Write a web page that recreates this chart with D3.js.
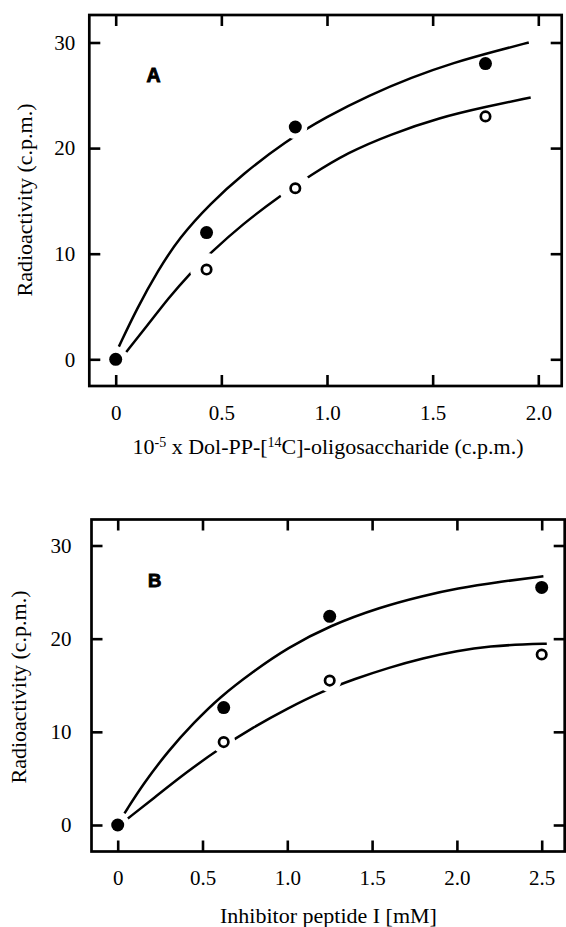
<!DOCTYPE html>
<html>
<head>
<meta charset="utf-8">
<script src="https://cdn.jsdelivr.net/npm/d3@7"></script>
<style>
  body { margin: 0; background: #fff; }
</style>
</head>
<body>
<svg id="chart" width="566" height="927"></svg>
<script>
// ---- data ----
var yTicks = [0, 10, 20, 30];
var yTickLabels = ["0", "10", "20", "30"];

// panel A
var xTicksA = [0, 0.5, 1.0, 1.5, 2.0];
var xTickLabelsA = ["0", "0.5", "1.0", "1.5", "2.0"];
var xFilledA = [0, 0.43, 0.85, 1.75];
var yFilledA = [0, 12.0, 22.0, 28.0];
var xOpenA = [0.43, 0.85, 1.75];
var yOpenA = [8.5, 16.2, 23.0];
var breakFilledA = [0, 0, 1, 0];
var breakOpenA = [1, 1, 0];
// fitted curves as drawn
var xCurveFilledA = [0.015, 0.1, 0.2, 0.3, 0.45, 0.6, 0.8, 1.0, 1.2, 1.4, 1.6, 1.8, 1.955];
var yCurveFilledA = [1.2, 4.8, 8.4, 11.5, 14.8, 17.5, 20.6, 23.0, 25.0, 26.7, 28.1, 29.2, 30.0];
var xCurveOpenA = [0.05, 0.15, 0.25, 0.35, 0.45, 0.6, 0.78, 0.92, 1.1, 1.3, 1.535, 1.75, 1.964];
var yCurveOpenA = [0.7, 3.2, 5.8, 8.1, 10.1, 12.8, 15.5, 17.4, 19.6, 21.3, 22.9, 23.9, 24.8];

// panel B
var xTicksB = [0, 0.5, 1.0, 1.5, 2.0, 2.5];
var xTickLabelsB = ["0", "0.5", "1.0", "1.5", "2.0", "2.5"];
var xFilledB = [0, 0.625, 1.25, 2.5];
var yFilledB = [0, 12.6, 22.4, 25.5];
var xOpenB = [0.625, 1.25, 2.5];
var yOpenB = [8.9, 15.5, 18.3];
var breakFilledB = [0, 0, 0, 0];
var breakOpenB = [1, 1, 0];
var xCurveFilledB = [0.04, 0.15, 0.3, 0.45, 0.6, 0.8, 1.0, 1.25, 1.55, 1.8, 2.0, 2.25, 2.51];
var yCurveFilledB = [1.25, 4.4, 8.0, 11.0, 13.7, 16.5, 19.0, 21.4, 23.4, 24.6, 25.4, 26.1, 26.7];
var xCurveOpenB = [0.06, 0.2, 0.4, 0.6, 0.8, 1.0, 1.2, 1.4, 1.6, 1.8, 2.0, 2.2, 2.4, 2.53];
var yCurveOpenB = [0.7, 2.7, 5.6, 8.2, 10.5, 12.5, 14.3, 15.7, 16.9, 17.9, 18.7, 19.2, 19.4, 19.45];

var serif = "'Liberation Serif', 'Times New Roman', serif";
var svg = d3.select("#chart");

function zip(xs, ys) {
    return xs.map((d, i) => [d, ys[i]]);
}

function styleAxis(g, size) {
    g.select(".domain").remove();
    g.selectAll("line").attr("stroke", "#000").attr("stroke-width", 2.6);
    g.selectAll("text")
        .attr("fill", "#000")
        .style("font-family", serif)
        .style("font-size", size + "px");
}

function drawPanel(p) {
    var g = svg.append("g");

    var x = d3.scaleLinear().domain(p.xDomain).range(p.xRange);
    var y = d3.scaleLinear().domain([0, 30]).range(p.yRange);

    // bottom axis with labels, ticks pointing in
    g.append("g")
        .attr("transform", "translate(0," + p.bottom + ")")
        .call(d3.axisBottom(x).tickValues(p.xTicks)
            .tickFormat((d, i) => p.xLabels[i])
            .tickSizeInner(-11).tickSizeOuter(0).tickPadding(19))
        .call(g => styleAxis(g, 21));

    g.append("g")
        .attr("transform", "translate(0," + p.top + ")")
        .call(d3.axisTop(x).tickValues(p.xTicks).tickFormat("")
            .tickSizeInner(-11).tickSizeOuter(0))
        .call(g => styleAxis(g, 21));

    g.append("g")
        .attr("transform", "translate(" + p.left + ",0)")
        .call(d3.axisLeft(y).tickValues(yTicks)
            .tickFormat((d, i) => yTickLabels[i])
            .tickSizeInner(-11).tickSizeOuter(0).tickPadding(p.yPad))
        .call(g => styleAxis(g, 21));

    g.append("g")
        .attr("transform", "translate(" + p.right + ",0)")
        .call(d3.axisRight(y).tickValues(yTicks).tickFormat("")
            .tickSizeInner(-11).tickSizeOuter(0))
        .call(g => styleAxis(g, 21));

    // frame
    g.append("rect")
        .attr("x", p.left)
        .attr("y", p.top)
        .attr("width", p.right - p.left)
        .attr("height", p.bottom - p.top)
        .attr("fill", "none")
        .attr("stroke", "#000")
        .attr("stroke-width", 2.7);

    // curves
    var line = d3.line()
        .x(d => x(d[0]))
        .y(d => y(d[1]))
        .curve(d3.curveBasis);

    g.append("path")
        .datum(zip(p.curveFilled[0], p.curveFilled[1]))
        .attr("d", line)
        .attr("fill", "none")
        .attr("stroke", "#000")
        .attr("stroke-width", 2.5);

    g.append("path")
        .datum(zip(p.curveOpen[0], p.curveOpen[1]))
        .attr("d", line)
        .attr("fill", "none")
        .attr("stroke", "#000")
        .attr("stroke-width", 2.5);

    var filled = zip(p.filled[0], p.filled[1]);
    var open = zip(p.open[0], p.open[1]);

    // white gaps where the curve breaks around a point
    g.selectAll(".gapf")
        .data(filled.filter((d, i) => p.filledBreak[i]))
        .enter()
        .append("circle")
        .attr("cx", d => x(d[0]))
        .attr("cy", d => y(d[1]))
        .attr("r", p.gapFilled)
        .attr("fill", "#fff");

    g.selectAll(".gapo")
        .data(open.filter((d, i) => p.openBreak[i]))
        .enter()
        .append("circle")
        .attr("cx", d => x(d[0]))
        .attr("cy", d => y(d[1]))
        .attr("r", p.gapOpen)
        .attr("fill", "#fff");

    g.selectAll(".open")
        .data(open)
        .enter()
        .append("circle")
        .attr("cx", d => x(d[0]))
        .attr("cy", d => y(d[1]))
        .attr("r", 4.7)
        .attr("fill", "#fff")
        .attr("stroke", "#000")
        .attr("stroke-width", 2.7);

    g.selectAll(".filled")
        .data(filled)
        .enter()
        .append("circle")
        .attr("cx", d => x(d[0]))
        .attr("cy", d => y(d[1]))
        .attr("r", 6.5)
        .attr("fill", "#000");

    // panel letter
    g.append("text")
        .attr("x", p.letterX)
        .attr("y", p.letterY)
        .text(p.letter)
        .style("font-family", "'Liberation Sans', Arial, sans-serif")
        .style("font-weight", "bold")
        .style("font-size", p.letterSize + "px")
        .attr("stroke", "#000")
        .attr("stroke-width", 0.9);

    // y title
    g.append("text")
        .attr("transform", "translate(" + p.yTitleX + "," + p.yTitleY + ") rotate(-90)")
        .attr("text-anchor", "middle")
        .text("Radioactivity (c.p.m.)")
        .style("font-family", serif)
        .style("font-size", "22px");

    return g;
}

var gA = drawPanel({
    xDomain: [0, 2], xRange: [115.7, 538.3], yRange: [359.3, 42.5],
    left: 89.3, right: 561.7, top: 15, bottom: 386,
    xTicks: xTicksA, xLabels: xTickLabelsA, yPad: 14,
    filled: [xFilledA, yFilledA], open: [xOpenA, yOpenA],
    filledBreak: breakFilledA, openBreak: breakOpenA,
    gapFilled: 12, gapOpen: 16.5,
    curveFilled: [xCurveFilledA, yCurveFilledA], curveOpen: [xCurveOpenA, yCurveOpenA],
    letter: "A", letterX: 146.5, letterY: 81.7, letterSize: 19.5,
    yTitleX: 32, yTitleY: 200
});

var gB = drawPanel({
    xDomain: [0, 2.5], xRange: [117.7, 541.7], yRange: [825, 545.5],
    left: 91.5, right: 564.7, top: 519.5, bottom: 851.5,
    xTicks: xTicksB, xLabels: xTickLabelsB, yPad: 20,
    filled: [xFilledB, yFilledB], open: [xOpenB, yOpenB],
    filledBreak: breakFilledB, openBreak: breakOpenB,
    gapFilled: 11, gapOpen: 11.5,
    curveFilled: [xCurveFilledB, yCurveFilledB], curveOpen: [xCurveOpenB, yCurveOpenB],
    letter: "B", letterX: 148, letterY: 586.5, letterSize: 18.5,
    yTitleX: 26, yTitleY: 687
});

// x titles
var tA = gA.append("text")
    .attr("x", 328)
    .attr("y", 454)
    .attr("text-anchor", "middle")
    .style("font-family", serif)
    .style("font-size", "22px");
tA.append("tspan").text("10");
tA.append("tspan").attr("dy", -7).style("font-size", "14px").text("-5");
tA.append("tspan").attr("dy", 7).text(" x Dol-PP-[");
tA.append("tspan").attr("dy", -7).style("font-size", "14px").text("14");
tA.append("tspan").attr("dy", 7).text("C]-oligosaccharide (c.p.m.)");

gB.append("text")
    .attr("x", 328.5)
    .attr("y", 922.5)
    .attr("text-anchor", "middle")
    .text("Inhibitor peptide I [mM]")
    .style("font-family", serif)
    .style("font-size", "22px");
</script>
</body>
</html>
